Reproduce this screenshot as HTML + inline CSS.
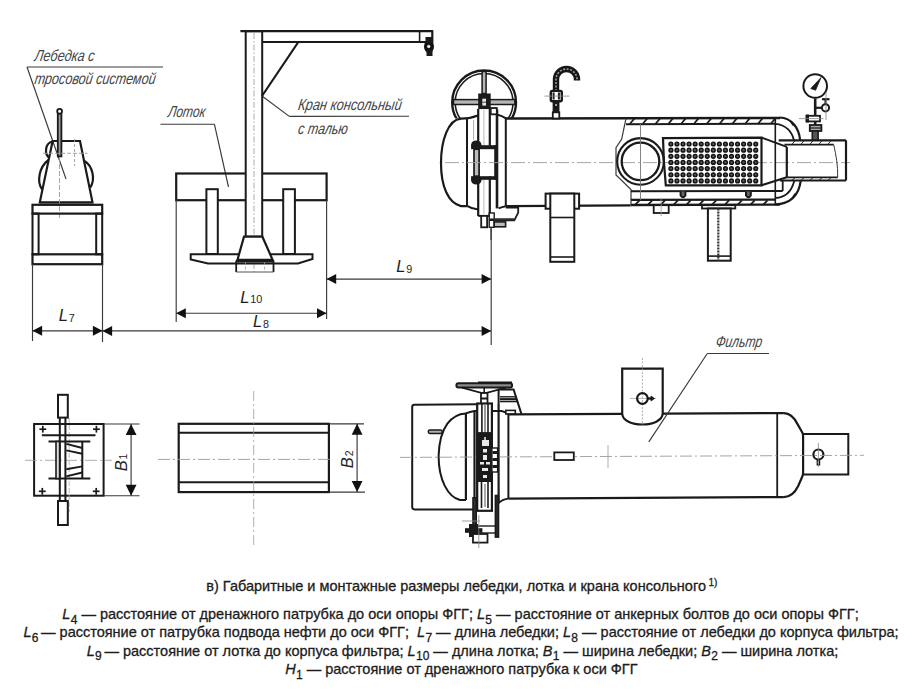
<!DOCTYPE html>
<html><head><meta charset="utf-8"><style>
html,body{margin:0;padding:0;background:#fff;width:919px;height:691px;overflow:hidden}
svg{display:block}
</style></head><body>
<svg width="919" height="691" viewBox="0 0 919 691">
<rect width="919" height="691" fill="#fff"/>
<line x1="27" y1="67" x2="163" y2="67" stroke="#3a3a3a" stroke-width="1.15" />
<line x1="27" y1="67" x2="66" y2="179" stroke="#3a3a3a" stroke-width="1.15" />
<g transform="translate(34,61) skewX(-9)"><text x="0" y="0" font-family="Liberation Sans" font-style="italic" font-size="15" transform="scale(1,1.06)" fill="#444" textLength="60" lengthAdjust="spacingAndGlyphs">Лебедка с</text></g>
<g transform="translate(34,84) skewX(-9)"><text x="0" y="0" font-family="Liberation Sans" font-style="italic" font-size="15" transform="scale(1,1.06)" fill="#444" textLength="121" lengthAdjust="spacingAndGlyphs">тросовой системой</text></g>
<path d="M52.6,141.5 C45,143 44,154 49.5,158" stroke="#1a1a1a" stroke-width="2.2" fill="none" />
<path d="M48.5,160 C39,167 36.5,182 42.2,189.5" stroke="#1a1a1a" stroke-width="2.2" fill="none" />
<path d="M84.4,161 C93,166 95.5,180 90.2,187.5" stroke="#1a1a1a" stroke-width="2.2" fill="none" />
<polygon points="52.6,141 80,141 92.5,202.4 39.8,202.4" stroke="#1a1a1a" stroke-width="2.2" fill="none" stroke-linejoin="miter"/>
<line x1="39.8" y1="204.5" x2="92.5" y2="204.5" stroke="#1a1a1a" stroke-width="1.4" />
<rect x="57.8" y="113.5" width="3.6" height="42.9" rx="0" stroke="#1a1a1a" stroke-width="1.8" fill="#9a9a9a"/>
<circle cx="59.6" cy="111.3" r="2.4" stroke="#1a1a1a" stroke-width="1.8" fill="#fff"/>
<line x1="43" y1="153.3" x2="87.5" y2="153.3" stroke="#9a9a9a" stroke-width="0.9" stroke-dasharray="4 2"/>
<line x1="59.5" y1="157" x2="59.5" y2="218" stroke="#9a9a9a" stroke-width="0.9" stroke-dasharray="5 2"/>
<line x1="74.6" y1="139" x2="74.6" y2="166" stroke="#9a9a9a" stroke-width="0.9" stroke-dasharray="3 2"/>
<rect x="32.5" y="204.8" width="69.7" height="8.8" rx="0" stroke="#1a1a1a" stroke-width="2.2" fill="none"/>
<rect x="32.5" y="213.6" width="6.1" height="40.7" rx="0" stroke="#1a1a1a" stroke-width="2.0" fill="none"/>
<rect x="96.2" y="213.6" width="6" height="40.7" rx="0" stroke="#1a1a1a" stroke-width="2.0" fill="none"/>
<rect x="32.5" y="254.3" width="69.7" height="9.9" rx="0" stroke="#1a1a1a" stroke-width="2.2" fill="none"/>
<line x1="32.5" y1="264" x2="32.5" y2="341" stroke="#3a3a3a" stroke-width="1.15" />
<line x1="102.5" y1="264" x2="102.5" y2="342" stroke="#3a3a3a" stroke-width="1.15" />
<line x1="32.5" y1="330.8" x2="102.5" y2="330.8" stroke="#3a3a3a" stroke-width="1.15" />
<polygon points="32.5,330.8 42.1,325.8 42.1,335.8" fill="#111"/>
<polygon points="102.5,330.8 92.9,325.8 92.9,335.8" fill="#111"/>
<text x="58.8" y="321.3" font-family="Liberation Sans" font-size="16.5" fill="#1e1e1e"><tspan font-style="italic">L</tspan><tspan font-size="10.8" dx="0.8" dy="0.3">7</tspan></text>
<line x1="160.5" y1="124.2" x2="214.4" y2="124.2" stroke="#3a3a3a" stroke-width="1.15" />
<line x1="214.4" y1="124.2" x2="228.5" y2="187" stroke="#3a3a3a" stroke-width="1.15" />
<g transform="translate(167.4,117) skewX(-9)"><text x="0" y="0" font-family="Liberation Sans" font-style="italic" font-size="15" transform="scale(1,1.06)" fill="#444" textLength="37.2" lengthAdjust="spacingAndGlyphs">Лоток</text></g>
<line x1="262" y1="96" x2="289.3" y2="116.4" stroke="#3a3a3a" stroke-width="1.15" />
<line x1="289.3" y1="116.4" x2="409" y2="116.2" stroke="#3a3a3a" stroke-width="1.15" />
<g transform="translate(297.5,110) skewX(-9)"><text x="0" y="0" font-family="Liberation Sans" font-style="italic" font-size="15" transform="scale(1,1.06)" fill="#444" textLength="103.6" lengthAdjust="spacingAndGlyphs">Кран консольный</text></g>
<g transform="translate(297.5,134) skewX(-9)"><text x="0" y="0" font-family="Liberation Sans" font-style="italic" font-size="15" transform="scale(1,1.06)" fill="#444" textLength="49.6" lengthAdjust="spacingAndGlyphs">с талью</text></g>
<rect x="176.2" y="173.5" width="150.4" height="26.7" rx="0" stroke="#1a1a1a" stroke-width="2.2" fill="none"/>
<rect x="245.7" y="31.2" width="16.5" height="205.5" rx="0" stroke="#1a1a1a" stroke-width="2.0" fill="#fff"/>
<line x1="254" y1="33" x2="254" y2="272" stroke="#9a9a9a" stroke-width="0.8" stroke-dasharray="6 2 1.5 2"/>
<line x1="240.4" y1="31.2" x2="432.6" y2="31.2" stroke="#1a1a1a" stroke-width="2.2" />
<line x1="262" y1="42" x2="432.6" y2="42" stroke="#1a1a1a" stroke-width="2.2" />
<line x1="432.3" y1="30.2" x2="432.3" y2="43" stroke="#1a1a1a" stroke-width="2.2" />
<line x1="419.6" y1="31" x2="419.6" y2="42" stroke="#1a1a1a" stroke-width="1.6" />
<line x1="298" y1="42.5" x2="262" y2="96" stroke="#1a1a1a" stroke-width="2.2" />
<ellipse cx="429" cy="46.5" rx="5" ry="6.5" fill="#111"/>
<rect x="425.5" y="37" width="7" height="6" fill="#1a1a1a"/>
<rect x="426.5" y="50" width="6" height="6" fill="#1a1a1a"/>
<circle cx="428.7" cy="46.5" r="1.3" stroke="#fff" stroke-width="0.6" fill="#fff"/>
<rect x="206.4" y="189.2" width="11.4" height="64.8" rx="0" stroke="#1a1a1a" stroke-width="2.0" fill="#fff"/>
<rect x="283.2" y="189.2" width="11.7" height="64.8" rx="0" stroke="#1a1a1a" stroke-width="2.0" fill="#fff"/>
<polygon points="190.7,254.2 312.5,254.2 312.5,259 298,263.5 208,263.5 190.7,259.4" stroke="#1a1a1a" stroke-width="2.0" fill="#fff" stroke-linejoin="miter"/>
<path d="M236.2,260.5 L236.2,272 M273.5,260.5 L273.5,272" stroke="#1a1a1a" stroke-width="1.8" fill="none" />
<line x1="236.2" y1="272" x2="273.5" y2="272" stroke="#555" stroke-width="1.0" />
<line x1="236.2" y1="261.2" x2="273.5" y2="261.2" stroke="#1a1a1a" stroke-width="2.8" />
<line x1="245.4" y1="262" x2="245.4" y2="272" stroke="#999" stroke-width="0.8" stroke-dasharray="3 1.5"/>
<line x1="264.6" y1="262" x2="264.6" y2="272" stroke="#999" stroke-width="0.8" stroke-dasharray="3 1.5"/>
<polygon points="244,236.7 262.4,236.7 272.6,259.8 237.5,259.8" stroke="#1a1a1a" stroke-width="2.2" fill="#fff" stroke-linejoin="miter"/>
<line x1="176.2" y1="200" x2="176.2" y2="322" stroke="#3a3a3a" stroke-width="1.15" />
<line x1="326.6" y1="200" x2="326.6" y2="319" stroke="#3a3a3a" stroke-width="1.15" />
<line x1="176.2" y1="313.2" x2="326.6" y2="313.2" stroke="#3a3a3a" stroke-width="1.15" />
<polygon points="176.2,313.2 185.8,308.2 185.8,318.2" fill="#111"/>
<polygon points="326.6,313.2 317,308.2 317,318.2" fill="#111"/>
<text x="240.2" y="302.7" font-family="Liberation Sans" font-size="16.5" fill="#1e1e1e"><tspan font-style="italic">L</tspan><tspan font-size="10.8" dx="0.8" dy="0.3">10</tspan></text>
<line x1="102.5" y1="330.9" x2="491.2" y2="330.9" stroke="#3a3a3a" stroke-width="1.15" />
<polygon points="102.5,330.9 112.1,325.9 112.1,335.9" fill="#111"/>
<polygon points="491.2,330.9 481.6,325.9 481.6,335.9" fill="#111"/>
<text x="252.9" y="327.3" font-family="Liberation Sans" font-size="16.5" fill="#1e1e1e"><tspan font-style="italic">L</tspan><tspan font-size="10.8" dx="0.8" dy="0.3">8</tspan></text>
<line x1="326.6" y1="279.1" x2="491.2" y2="279.1" stroke="#3a3a3a" stroke-width="1.15" />
<polygon points="326.6,279.1 336.2,274.1 336.2,284.1" fill="#111"/>
<polygon points="491.2,279.1 481.6,274.1 481.6,284.1" fill="#111"/>
<text x="396.3" y="272.3" font-family="Liberation Sans" font-size="16.5" fill="#1e1e1e"><tspan font-style="italic">L</tspan><tspan font-size="10.8" dx="0.8" dy="0.3">9</tspan></text>
<line x1="491.2" y1="228" x2="491.2" y2="345" stroke="#3a3a3a" stroke-width="1.15" />
<clipPath id="wclip"><rect x="440" y="60" width="90" height="58.6"/></clipPath>
<g clip-path="url(#wclip)">
<circle cx="484.1" cy="102.4" r="31.9" stroke="#1a1a1a" stroke-width="2.4" fill="none"/>
<circle cx="484.1" cy="102.4" r="28.9" stroke="#1a1a1a" stroke-width="1.6" fill="none"/>
</g>
<rect x="482.1" y="71.5" width="4" height="22" rx="0" stroke="#1a1a1a" stroke-width="1.5" fill="#b5b5b5"/>
<rect x="453.5" y="99.6" width="61.3" height="4.9" rx="0" stroke="#1a1a1a" stroke-width="1.5" fill="#b5b5b5"/>
<rect x="478.2" y="93.5" width="12.5" height="15.6" fill="#1a1a1a"/>
<rect x="482.3" y="98.7" width="3.7" height="6.9" fill="#e6e6e6"/>
<line x1="482.3" y1="102.2" x2="486" y2="102.2" stroke="#444" stroke-width="1.0" />
<path d="M477.8,115.4 Q470,118.6 461,118.6 C448,119.5 441,141 441,163 C441,186 448,203 461,206.1 L467.6,206.1" stroke="#1a1a1a" stroke-width="2.2" fill="none" />
<path d="M496.8,114.4 Q502,115.5 506.4,118.6" stroke="#1a1a1a" stroke-width="2.0" fill="none" />
<path d="M467.6,206.1 Q472,209 478.2,209.4" stroke="#1a1a1a" stroke-width="2.0" fill="none" />
<path d="M498.6,208.4 Q502,206.8 505.8,206.2" stroke="#1a1a1a" stroke-width="2.0" fill="none" />
<line x1="467" y1="118.6" x2="467" y2="206.1" stroke="#1a1a1a" stroke-width="2.0" />
<line x1="505.8" y1="118.4" x2="505.8" y2="206.2" stroke="#1a1a1a" stroke-width="2.0" />
<line x1="497" y1="109.5" x2="497" y2="208.4" stroke="#1a1a1a" stroke-width="2.6" />
<line x1="473.6" y1="120" x2="473.6" y2="140" stroke="#999" stroke-width="0.8" />
<line x1="478.2" y1="109" x2="478.2" y2="216" stroke="#1a1a1a" stroke-width="2.2" />
<line x1="489.8" y1="109" x2="489.8" y2="216" stroke="#1a1a1a" stroke-width="2.2" />
<line x1="478.2" y1="215.9" x2="489.8" y2="215.9" stroke="#1a1a1a" stroke-width="2.0" />
<line x1="483.9" y1="110" x2="483.9" y2="214" stroke="#aaa" stroke-width="0.8" />
<rect x="490.7" y="108" width="6.1" height="6.3" rx="0" stroke="#1a1a1a" stroke-width="1.8" fill="#fff"/>
<rect x="479.1" y="148.9" width="16.3" height="27.5" fill="#fff"/>
<rect x="471.1" y="145.2" width="25.5" height="4" fill="#1a1a1a"/>
<rect x="471.1" y="176.2" width="25.5" height="3.6" fill="#1a1a1a"/>
<path d="M471.1,146 L471.1,144.5 Q471.8,140.6 476.3,140.6 Q480.8,140.6 481.5,144.5 L481.5,146 Z" stroke="#1a1a1a" stroke-width="0" fill="#1a1a1a" />
<path d="M471.1,179 L471.1,180.5 Q471.8,184.4 476.3,184.4 Q480.8,184.4 481.5,180.5 L481.5,179 Z" stroke="#1a1a1a" stroke-width="0" fill="#1a1a1a" />
<rect x="474" y="149.2" width="5.1" height="27" rx="0" stroke="#1a1a1a" stroke-width="1.7" fill="#bdbdbd"/>
<line x1="495.6" y1="145.2" x2="495.6" y2="179.8" stroke="#1a1a1a" stroke-width="2.8" />
<rect x="481.2" y="215.9" width="5.9" height="11.4" rx="0" stroke="#1a1a1a" stroke-width="1.8" fill="#fff"/>
<rect x="489.2" y="213" width="5" height="14.3" rx="0" stroke="#1a1a1a" stroke-width="1.4" fill="#fff"/>
<rect x="489.5" y="218.5" width="4.5" height="2.5" fill="#1a1a1a"/>
<path d="M505.8,207.7 L518.2,207.7 L518.2,212.6 L514.3,220.3 L494.8,220.3" stroke="#1a1a1a" stroke-width="1.8" fill="none" />
<line x1="494.2" y1="219.2" x2="514.3" y2="219.2" stroke="#333" stroke-width="2.0" />
<rect x="494.2" y="221.9" width="11.4" height="4.9" rx="0" stroke="#1a1a1a" stroke-width="1.6" fill="#bbb"/>
<line x1="491" y1="227.3" x2="491" y2="240" stroke="#3a3a3a" stroke-width="1.15" />
<line x1="445" y1="162.6" x2="850" y2="162.6" stroke="#9a9a9a" stroke-width="0.9" stroke-dasharray="14 3 2 3"/>
<line x1="505.8" y1="118.6" x2="780" y2="118" stroke="#1a1a1a" stroke-width="2.5" />
<line x1="505.8" y1="206.1" x2="630.5" y2="205.3" stroke="#1a1a1a" stroke-width="2.2" />
<line x1="630.5" y1="205" x2="780" y2="204.6" stroke="#1a1a1a" stroke-width="2.4" />
<polyline points="626,118.4 621.7,139 616,147.6 616,175 631,189.6 631,204.4" stroke="#3a3a3a" stroke-width="1.2" fill="none" stroke-linejoin="miter"/>
<line x1="626" y1="124.2" x2="775.3" y2="123.8" stroke="#1a1a1a" stroke-width="2.0" />
<line x1="630" y1="123.8" x2="634.5" y2="118.4" stroke="#1a1a1a" stroke-width="1.7" />
<line x1="642.8" y1="123.8" x2="647.3" y2="118.4" stroke="#1a1a1a" stroke-width="1.7" />
<line x1="655.6" y1="123.8" x2="660.1" y2="118.4" stroke="#1a1a1a" stroke-width="1.7" />
<line x1="668.4" y1="123.8" x2="672.9" y2="118.4" stroke="#1a1a1a" stroke-width="1.7" />
<line x1="681.2" y1="123.8" x2="685.7" y2="118.4" stroke="#1a1a1a" stroke-width="1.7" />
<line x1="694" y1="123.8" x2="698.5" y2="118.4" stroke="#1a1a1a" stroke-width="1.7" />
<line x1="706.8" y1="123.8" x2="711.3" y2="118.4" stroke="#1a1a1a" stroke-width="1.7" />
<line x1="719.6" y1="123.8" x2="724.1" y2="118.4" stroke="#1a1a1a" stroke-width="1.7" />
<line x1="732.4" y1="123.8" x2="736.9" y2="118.4" stroke="#1a1a1a" stroke-width="1.7" />
<line x1="745.2" y1="123.8" x2="749.7" y2="118.4" stroke="#1a1a1a" stroke-width="1.7" />
<line x1="758" y1="123.8" x2="762.5" y2="118.4" stroke="#1a1a1a" stroke-width="1.7" />
<line x1="770.8" y1="123.8" x2="775.3" y2="118.4" stroke="#1a1a1a" stroke-width="1.7" />
<line x1="631" y1="199.9" x2="775.3" y2="199.7" stroke="#1a1a1a" stroke-width="2.2" />
<line x1="635" y1="204.8" x2="639.5" y2="200.3" stroke="#1a1a1a" stroke-width="1.7" />
<line x1="647.8" y1="204.8" x2="652.3" y2="200.3" stroke="#1a1a1a" stroke-width="1.7" />
<line x1="660.6" y1="204.8" x2="665.1" y2="200.3" stroke="#1a1a1a" stroke-width="1.7" />
<line x1="673.4" y1="204.8" x2="677.9" y2="200.3" stroke="#1a1a1a" stroke-width="1.7" />
<line x1="686.2" y1="204.8" x2="690.7" y2="200.3" stroke="#1a1a1a" stroke-width="1.7" />
<line x1="699" y1="204.8" x2="703.5" y2="200.3" stroke="#1a1a1a" stroke-width="1.7" />
<line x1="711.8" y1="204.8" x2="716.3" y2="200.3" stroke="#1a1a1a" stroke-width="1.7" />
<line x1="724.6" y1="204.8" x2="729.1" y2="200.3" stroke="#1a1a1a" stroke-width="1.7" />
<line x1="737.4" y1="204.8" x2="741.9" y2="200.3" stroke="#1a1a1a" stroke-width="1.7" />
<line x1="750.2" y1="204.8" x2="754.7" y2="200.3" stroke="#1a1a1a" stroke-width="1.7" />
<line x1="763" y1="204.8" x2="767.5" y2="200.3" stroke="#1a1a1a" stroke-width="1.7" />
<line x1="631" y1="191.3" x2="782.7" y2="191" stroke="#1a1a1a" stroke-width="2.0" />
<line x1="782.7" y1="181" x2="782.7" y2="191" stroke="#1a1a1a" stroke-width="1.8" />
<path d="M680.6,191.5 L680.6,195.5 Q683,199 685.4,195.5 L685.4,191.5" stroke="#1a1a1a" stroke-width="2.0" fill="#666" />
<path d="M746,191.5 L746,195.5 Q748.4,199 750.8,195.5 L750.8,191.5" stroke="#1a1a1a" stroke-width="2.0" fill="#666" />
<circle cx="640.5" cy="161.4" r="23.3" stroke="#1a1a1a" stroke-width="2.1" fill="none"/>
<circle cx="640.5" cy="161.4" r="18.8" stroke="#1a1a1a" stroke-width="2.3" fill="none"/>
<line x1="640.5" y1="124" x2="640.5" y2="200" stroke="#777" stroke-width="0.9" />
<path d="M663,138.2 L761.5,137.6 L761.5,185.3 L665.8,185.3 Q663.5,162 663,138.2 Z" stroke="#1a1a1a" stroke-width="2.2" fill="none" />
<circle cx="670.9" cy="144" r="1.85" stroke="#141414" stroke-width="1.5" fill="#5a5a5a"/>
<circle cx="670.9" cy="150.15" r="1.85" stroke="#141414" stroke-width="1.5" fill="#5a5a5a"/>
<circle cx="670.9" cy="156.3" r="1.85" stroke="#141414" stroke-width="1.5" fill="#5a5a5a"/>
<circle cx="670.9" cy="162.45" r="1.85" stroke="#141414" stroke-width="1.5" fill="#5a5a5a"/>
<circle cx="670.9" cy="168.6" r="1.85" stroke="#141414" stroke-width="1.5" fill="#5a5a5a"/>
<circle cx="670.9" cy="174.75" r="1.85" stroke="#141414" stroke-width="1.5" fill="#5a5a5a"/>
<circle cx="670.9" cy="180.9" r="1.85" stroke="#141414" stroke-width="1.5" fill="#5a5a5a"/>
<circle cx="676.96" cy="144" r="1.85" stroke="#141414" stroke-width="1.5" fill="#5a5a5a"/>
<circle cx="676.96" cy="150.15" r="1.85" stroke="#141414" stroke-width="1.5" fill="#5a5a5a"/>
<circle cx="676.96" cy="156.3" r="1.85" stroke="#141414" stroke-width="1.5" fill="#5a5a5a"/>
<circle cx="676.96" cy="162.45" r="1.85" stroke="#141414" stroke-width="1.5" fill="#5a5a5a"/>
<circle cx="676.96" cy="168.6" r="1.85" stroke="#141414" stroke-width="1.5" fill="#5a5a5a"/>
<circle cx="676.96" cy="174.75" r="1.85" stroke="#141414" stroke-width="1.5" fill="#5a5a5a"/>
<circle cx="676.96" cy="180.9" r="1.85" stroke="#141414" stroke-width="1.5" fill="#5a5a5a"/>
<circle cx="683.02" cy="144" r="1.85" stroke="#141414" stroke-width="1.5" fill="#5a5a5a"/>
<circle cx="683.02" cy="150.15" r="1.85" stroke="#141414" stroke-width="1.5" fill="#5a5a5a"/>
<circle cx="683.02" cy="156.3" r="1.85" stroke="#141414" stroke-width="1.5" fill="#5a5a5a"/>
<circle cx="683.02" cy="162.45" r="1.85" stroke="#141414" stroke-width="1.5" fill="#5a5a5a"/>
<circle cx="683.02" cy="168.6" r="1.85" stroke="#141414" stroke-width="1.5" fill="#5a5a5a"/>
<circle cx="683.02" cy="174.75" r="1.85" stroke="#141414" stroke-width="1.5" fill="#5a5a5a"/>
<circle cx="683.02" cy="180.9" r="1.85" stroke="#141414" stroke-width="1.5" fill="#5a5a5a"/>
<circle cx="689.08" cy="144" r="1.85" stroke="#141414" stroke-width="1.5" fill="#5a5a5a"/>
<circle cx="689.08" cy="150.15" r="1.85" stroke="#141414" stroke-width="1.5" fill="#5a5a5a"/>
<circle cx="689.08" cy="156.3" r="1.85" stroke="#141414" stroke-width="1.5" fill="#5a5a5a"/>
<circle cx="689.08" cy="162.45" r="1.85" stroke="#141414" stroke-width="1.5" fill="#5a5a5a"/>
<circle cx="689.08" cy="168.6" r="1.85" stroke="#141414" stroke-width="1.5" fill="#5a5a5a"/>
<circle cx="689.08" cy="174.75" r="1.85" stroke="#141414" stroke-width="1.5" fill="#5a5a5a"/>
<circle cx="689.08" cy="180.9" r="1.85" stroke="#141414" stroke-width="1.5" fill="#5a5a5a"/>
<circle cx="695.14" cy="144" r="1.85" stroke="#141414" stroke-width="1.5" fill="#5a5a5a"/>
<circle cx="695.14" cy="150.15" r="1.85" stroke="#141414" stroke-width="1.5" fill="#5a5a5a"/>
<circle cx="695.14" cy="156.3" r="1.85" stroke="#141414" stroke-width="1.5" fill="#5a5a5a"/>
<circle cx="695.14" cy="162.45" r="1.85" stroke="#141414" stroke-width="1.5" fill="#5a5a5a"/>
<circle cx="695.14" cy="168.6" r="1.85" stroke="#141414" stroke-width="1.5" fill="#5a5a5a"/>
<circle cx="695.14" cy="174.75" r="1.85" stroke="#141414" stroke-width="1.5" fill="#5a5a5a"/>
<circle cx="695.14" cy="180.9" r="1.85" stroke="#141414" stroke-width="1.5" fill="#5a5a5a"/>
<circle cx="701.2" cy="144" r="1.85" stroke="#141414" stroke-width="1.5" fill="#5a5a5a"/>
<circle cx="701.2" cy="150.15" r="1.85" stroke="#141414" stroke-width="1.5" fill="#5a5a5a"/>
<circle cx="701.2" cy="156.3" r="1.85" stroke="#141414" stroke-width="1.5" fill="#5a5a5a"/>
<circle cx="701.2" cy="162.45" r="1.85" stroke="#141414" stroke-width="1.5" fill="#5a5a5a"/>
<circle cx="701.2" cy="168.6" r="1.85" stroke="#141414" stroke-width="1.5" fill="#5a5a5a"/>
<circle cx="701.2" cy="174.75" r="1.85" stroke="#141414" stroke-width="1.5" fill="#5a5a5a"/>
<circle cx="701.2" cy="180.9" r="1.85" stroke="#141414" stroke-width="1.5" fill="#5a5a5a"/>
<circle cx="707.26" cy="144" r="1.85" stroke="#141414" stroke-width="1.5" fill="#5a5a5a"/>
<circle cx="707.26" cy="150.15" r="1.85" stroke="#141414" stroke-width="1.5" fill="#5a5a5a"/>
<circle cx="707.26" cy="156.3" r="1.85" stroke="#141414" stroke-width="1.5" fill="#5a5a5a"/>
<circle cx="707.26" cy="162.45" r="1.85" stroke="#141414" stroke-width="1.5" fill="#5a5a5a"/>
<circle cx="707.26" cy="168.6" r="1.85" stroke="#141414" stroke-width="1.5" fill="#5a5a5a"/>
<circle cx="707.26" cy="174.75" r="1.85" stroke="#141414" stroke-width="1.5" fill="#5a5a5a"/>
<circle cx="707.26" cy="180.9" r="1.85" stroke="#141414" stroke-width="1.5" fill="#5a5a5a"/>
<circle cx="713.32" cy="144" r="1.85" stroke="#141414" stroke-width="1.5" fill="#5a5a5a"/>
<circle cx="713.32" cy="150.15" r="1.85" stroke="#141414" stroke-width="1.5" fill="#5a5a5a"/>
<circle cx="713.32" cy="156.3" r="1.85" stroke="#141414" stroke-width="1.5" fill="#5a5a5a"/>
<circle cx="713.32" cy="162.45" r="1.85" stroke="#141414" stroke-width="1.5" fill="#5a5a5a"/>
<circle cx="713.32" cy="168.6" r="1.85" stroke="#141414" stroke-width="1.5" fill="#5a5a5a"/>
<circle cx="713.32" cy="174.75" r="1.85" stroke="#141414" stroke-width="1.5" fill="#5a5a5a"/>
<circle cx="713.32" cy="180.9" r="1.85" stroke="#141414" stroke-width="1.5" fill="#5a5a5a"/>
<circle cx="719.38" cy="144" r="1.85" stroke="#141414" stroke-width="1.5" fill="#5a5a5a"/>
<circle cx="719.38" cy="150.15" r="1.85" stroke="#141414" stroke-width="1.5" fill="#5a5a5a"/>
<circle cx="719.38" cy="156.3" r="1.85" stroke="#141414" stroke-width="1.5" fill="#5a5a5a"/>
<circle cx="719.38" cy="162.45" r="1.85" stroke="#141414" stroke-width="1.5" fill="#5a5a5a"/>
<circle cx="719.38" cy="168.6" r="1.85" stroke="#141414" stroke-width="1.5" fill="#5a5a5a"/>
<circle cx="719.38" cy="174.75" r="1.85" stroke="#141414" stroke-width="1.5" fill="#5a5a5a"/>
<circle cx="719.38" cy="180.9" r="1.85" stroke="#141414" stroke-width="1.5" fill="#5a5a5a"/>
<circle cx="725.44" cy="144" r="1.85" stroke="#141414" stroke-width="1.5" fill="#5a5a5a"/>
<circle cx="725.44" cy="150.15" r="1.85" stroke="#141414" stroke-width="1.5" fill="#5a5a5a"/>
<circle cx="725.44" cy="156.3" r="1.85" stroke="#141414" stroke-width="1.5" fill="#5a5a5a"/>
<circle cx="725.44" cy="162.45" r="1.85" stroke="#141414" stroke-width="1.5" fill="#5a5a5a"/>
<circle cx="725.44" cy="168.6" r="1.85" stroke="#141414" stroke-width="1.5" fill="#5a5a5a"/>
<circle cx="725.44" cy="174.75" r="1.85" stroke="#141414" stroke-width="1.5" fill="#5a5a5a"/>
<circle cx="725.44" cy="180.9" r="1.85" stroke="#141414" stroke-width="1.5" fill="#5a5a5a"/>
<circle cx="731.5" cy="144" r="1.85" stroke="#141414" stroke-width="1.5" fill="#5a5a5a"/>
<circle cx="731.5" cy="150.15" r="1.85" stroke="#141414" stroke-width="1.5" fill="#5a5a5a"/>
<circle cx="731.5" cy="156.3" r="1.85" stroke="#141414" stroke-width="1.5" fill="#5a5a5a"/>
<circle cx="731.5" cy="162.45" r="1.85" stroke="#141414" stroke-width="1.5" fill="#5a5a5a"/>
<circle cx="731.5" cy="168.6" r="1.85" stroke="#141414" stroke-width="1.5" fill="#5a5a5a"/>
<circle cx="731.5" cy="174.75" r="1.85" stroke="#141414" stroke-width="1.5" fill="#5a5a5a"/>
<circle cx="731.5" cy="180.9" r="1.85" stroke="#141414" stroke-width="1.5" fill="#5a5a5a"/>
<circle cx="737.56" cy="144" r="1.85" stroke="#141414" stroke-width="1.5" fill="#5a5a5a"/>
<circle cx="737.56" cy="150.15" r="1.85" stroke="#141414" stroke-width="1.5" fill="#5a5a5a"/>
<circle cx="737.56" cy="156.3" r="1.85" stroke="#141414" stroke-width="1.5" fill="#5a5a5a"/>
<circle cx="737.56" cy="162.45" r="1.85" stroke="#141414" stroke-width="1.5" fill="#5a5a5a"/>
<circle cx="737.56" cy="168.6" r="1.85" stroke="#141414" stroke-width="1.5" fill="#5a5a5a"/>
<circle cx="737.56" cy="174.75" r="1.85" stroke="#141414" stroke-width="1.5" fill="#5a5a5a"/>
<circle cx="737.56" cy="180.9" r="1.85" stroke="#141414" stroke-width="1.5" fill="#5a5a5a"/>
<circle cx="743.62" cy="144" r="1.85" stroke="#141414" stroke-width="1.5" fill="#5a5a5a"/>
<circle cx="743.62" cy="150.15" r="1.85" stroke="#141414" stroke-width="1.5" fill="#5a5a5a"/>
<circle cx="743.62" cy="156.3" r="1.85" stroke="#141414" stroke-width="1.5" fill="#5a5a5a"/>
<circle cx="743.62" cy="162.45" r="1.85" stroke="#141414" stroke-width="1.5" fill="#5a5a5a"/>
<circle cx="743.62" cy="168.6" r="1.85" stroke="#141414" stroke-width="1.5" fill="#5a5a5a"/>
<circle cx="743.62" cy="174.75" r="1.85" stroke="#141414" stroke-width="1.5" fill="#5a5a5a"/>
<circle cx="743.62" cy="180.9" r="1.85" stroke="#141414" stroke-width="1.5" fill="#5a5a5a"/>
<circle cx="749.68" cy="144" r="1.85" stroke="#141414" stroke-width="1.5" fill="#5a5a5a"/>
<circle cx="749.68" cy="150.15" r="1.85" stroke="#141414" stroke-width="1.5" fill="#5a5a5a"/>
<circle cx="749.68" cy="156.3" r="1.85" stroke="#141414" stroke-width="1.5" fill="#5a5a5a"/>
<circle cx="749.68" cy="162.45" r="1.85" stroke="#141414" stroke-width="1.5" fill="#5a5a5a"/>
<circle cx="749.68" cy="168.6" r="1.85" stroke="#141414" stroke-width="1.5" fill="#5a5a5a"/>
<circle cx="749.68" cy="174.75" r="1.85" stroke="#141414" stroke-width="1.5" fill="#5a5a5a"/>
<circle cx="749.68" cy="180.9" r="1.85" stroke="#141414" stroke-width="1.5" fill="#5a5a5a"/>
<circle cx="755.74" cy="144" r="1.85" stroke="#141414" stroke-width="1.5" fill="#5a5a5a"/>
<circle cx="755.74" cy="150.15" r="1.85" stroke="#141414" stroke-width="1.5" fill="#5a5a5a"/>
<circle cx="755.74" cy="156.3" r="1.85" stroke="#141414" stroke-width="1.5" fill="#5a5a5a"/>
<circle cx="755.74" cy="162.45" r="1.85" stroke="#141414" stroke-width="1.5" fill="#5a5a5a"/>
<circle cx="755.74" cy="168.6" r="1.85" stroke="#141414" stroke-width="1.5" fill="#5a5a5a"/>
<circle cx="755.74" cy="174.75" r="1.85" stroke="#141414" stroke-width="1.5" fill="#5a5a5a"/>
<circle cx="755.74" cy="180.9" r="1.85" stroke="#141414" stroke-width="1.5" fill="#5a5a5a"/>
<line x1="761.5" y1="137.6" x2="786.8" y2="146.9" stroke="#1a1a1a" stroke-width="2.0" />
<line x1="761.5" y1="185.3" x2="786.8" y2="177.3" stroke="#1a1a1a" stroke-width="2.0" />
<line x1="786.8" y1="146.9" x2="786.8" y2="177.3" stroke="#1a1a1a" stroke-width="2.2" />
<line x1="775.3" y1="117.5" x2="775.3" y2="204.4" stroke="#1a1a1a" stroke-width="1.6" />
<path d="M779.6,117.5 C792,118 799,128 800.2,140.5" stroke="#1a1a1a" stroke-width="2.2" fill="none" />
<path d="M775.3,123.8 C786,124.5 792,132 794,140.5" stroke="#1a1a1a" stroke-width="1.8" fill="none" />
<line x1="779" y1="140" x2="781" y2="118.5" stroke="#1a1a1a" stroke-width="0" />
<line x1="790" y1="121" x2="793.5" y2="126" stroke="#1a1a1a" stroke-width="1.2" />
<path d="M800.7,180.8 C799,194 792,203.5 775.3,204.4" stroke="#1a1a1a" stroke-width="2.2" fill="none" />
<path d="M794.3,180.8 C792,190 787,197.5 775.3,198" stroke="#1a1a1a" stroke-width="1.8" fill="none" />
<line x1="792" y1="198" x2="795.5" y2="193" stroke="#1a1a1a" stroke-width="1.2" />
<line x1="778.7" y1="140.3" x2="846" y2="140.3" stroke="#1a1a1a" stroke-width="2.2" />
<line x1="784.5" y1="144.6" x2="833.7" y2="144.6" stroke="#1a1a1a" stroke-width="1.8" />
<line x1="846" y1="140.3" x2="846" y2="180.5" stroke="#1a1a1a" stroke-width="2.2" />
<line x1="779.8" y1="180.5" x2="846" y2="180.5" stroke="#1a1a1a" stroke-width="2.2" />
<line x1="787" y1="177.4" x2="837.7" y2="177.4" stroke="#1a1a1a" stroke-width="1.8" />
<line x1="792" y1="144.2" x2="795" y2="140.8" stroke="#1a1a1a" stroke-width="0.9" />
<line x1="801" y1="144.2" x2="804" y2="140.8" stroke="#1a1a1a" stroke-width="0.9" />
<line x1="810" y1="144.2" x2="813" y2="140.8" stroke="#1a1a1a" stroke-width="0.9" />
<line x1="819" y1="144.2" x2="822" y2="140.8" stroke="#1a1a1a" stroke-width="0.9" />
<line x1="828" y1="144.2" x2="831" y2="140.8" stroke="#1a1a1a" stroke-width="0.9" />
<line x1="792" y1="180.2" x2="795" y2="177.8" stroke="#1a1a1a" stroke-width="0.9" />
<line x1="801" y1="180.2" x2="804" y2="177.8" stroke="#1a1a1a" stroke-width="0.9" />
<line x1="810" y1="180.2" x2="813" y2="177.8" stroke="#1a1a1a" stroke-width="0.9" />
<line x1="819" y1="180.2" x2="822" y2="177.8" stroke="#1a1a1a" stroke-width="0.9" />
<line x1="828" y1="180.2" x2="831" y2="177.8" stroke="#1a1a1a" stroke-width="0.9" />
<path d="M833.7,144.6 C836,155 838,165 837.7,177.4" stroke="#3a3a3a" stroke-width="1.0" fill="none" />
<circle cx="815.2" cy="86" r="11.8" stroke="#1a1a1a" stroke-width="2.0" fill="#fff"/>
<polygon points="810.8,88.6 821,77.6 815.6,90.2" stroke="#1a1a1a" stroke-width="0.8" fill="#1a1a1a" stroke-linejoin="miter"/>
<line x1="815.2" y1="98.4" x2="815.2" y2="125" stroke="#1a1a1a" stroke-width="2.6" />
<line x1="815.2" y1="107.8" x2="822" y2="107.8" stroke="#1a1a1a" stroke-width="2.2" />
<circle cx="825.5" cy="107.8" r="3.6" stroke="#1a1a1a" stroke-width="2.0" fill="#fff"/>
<line x1="822" y1="99.2" x2="829.5" y2="99.2" stroke="#1a1a1a" stroke-width="2.2" />
<line x1="825.5" y1="99.2" x2="825.5" y2="104" stroke="#1a1a1a" stroke-width="2.0" />
<line x1="826" y1="92" x2="826" y2="120" stroke="#888" stroke-width="0.8" />
<rect x="806.4" y="115.8" width="13.6" height="5.6" rx="0" stroke="#1a1a1a" stroke-width="1.8" fill="#fff"/>
<rect x="806" y="114.5" width="3" height="8" fill="#1a1a1a"/>
<line x1="799" y1="118.6" x2="823.5" y2="118.6" stroke="#888" stroke-width="0.8" />
<rect x="809.8" y="125" width="11.6" height="6" rx="0" stroke="#1a1a1a" stroke-width="1.8" fill="#aaa"/>
<line x1="809.8" y1="128" x2="821.4" y2="128" stroke="#1a1a1a" stroke-width="1.2" />
<rect x="812.3" y="131" width="5.8" height="9" rx="0" stroke="#1a1a1a" stroke-width="1.6" fill="#555"/>
<path d="M556,112 L556,79.5 A10.5,10.5 0 0 1 577,79.5 L577,80.5" stroke="#161616" stroke-width="6.4" fill="none" stroke-linecap="butt"/>
<path d="M556,112 L556,79.5 A10.5,10.5 0 0 1 577,79.5 L577,80.5" stroke="#9a9a9a" stroke-width="1.6" fill="none" stroke-dasharray="2 1.5"/>
<rect x="550.8" y="90.9" width="11" height="10.4" rx="1.5" stroke="#1a1a1a" stroke-width="2.4" fill="#fff"/>
<line x1="553.6" y1="92.5" x2="553.6" y2="99.5" stroke="#1a1a1a" stroke-width="2.0" />
<line x1="558.9" y1="92.5" x2="558.9" y2="99.5" stroke="#1a1a1a" stroke-width="2.0" />
<line x1="544.5" y1="96.1" x2="569.4" y2="96.1" stroke="#888" stroke-width="0.8" />
<rect x="552.8" y="112.3" width="6.5" height="6.2" rx="0" stroke="#1a1a1a" stroke-width="1.8" fill="#fff"/>
<rect x="552.8" y="101" width="6.5" height="11.3" fill="#1a1a1a"/>
<rect x="555.3" y="104" width="1.5" height="2" fill="#ccc"/>
<rect x="545.6" y="193.6" width="33.5" height="15.1" rx="0" stroke="#1a1a1a" stroke-width="2.0" fill="#fff"/>
<rect x="550.3" y="193.6" width="24" height="68.2" rx="0" stroke="#1a1a1a" stroke-width="2.0" fill="#fff"/>
<line x1="550.3" y1="217.5" x2="574.3" y2="217.5" stroke="#1a1a1a" stroke-width="1.6" />
<line x1="550.3" y1="257" x2="574.3" y2="257" stroke="#1a1a1a" stroke-width="1.6" />
<rect x="653.7" y="205.2" width="15" height="7.8" rx="0" stroke="#1a1a1a" stroke-width="1.8" fill="#fff"/>
<line x1="661.2" y1="198" x2="661.2" y2="216" stroke="#999" stroke-width="0.8" />
<rect x="702" y="205.2" width="33.3" height="3.3" rx="0" stroke="#1a1a1a" stroke-width="1.8" fill="#fff"/>
<rect x="707.9" y="208.5" width="22.8" height="52.2" rx="0" stroke="#1a1a1a" stroke-width="2.0" fill="#fff"/>
<line x1="718.3" y1="208.5" x2="718.3" y2="260.7" stroke="#333" stroke-width="2.2" stroke-dasharray="2 1"/>
<line x1="707.9" y1="256.1" x2="730.7" y2="256.1" stroke="#1a1a1a" stroke-width="1.6" />
<rect x="34.1" y="424" width="69.5" height="71.7" rx="0" stroke="#1a1a1a" stroke-width="2.0" fill="none"/>
<line x1="25" y1="460.3" x2="112" y2="460.3" stroke="#999" stroke-width="0.8" stroke-dasharray="12 3 2 3"/>
<line x1="69.2" y1="418" x2="69.2" y2="512" stroke="#aaa" stroke-width="0.8" stroke-dasharray="5 2"/>
<line x1="41.9" y1="435.3" x2="95.5" y2="435.3" stroke="#1a1a1a" stroke-width="2.0" />
<line x1="48.5" y1="441.5" x2="90.3" y2="441.5" stroke="#1a1a1a" stroke-width="2.0" />
<line x1="48.5" y1="478.6" x2="90.3" y2="478.6" stroke="#1a1a1a" stroke-width="2.0" />
<line x1="39.4" y1="429.2" x2="46.2" y2="429.2" stroke="#1a1a1a" stroke-width="1.7" />
<line x1="42.8" y1="425.8" x2="42.8" y2="432.6" stroke="#1a1a1a" stroke-width="1.7" />
<line x1="93" y1="429.2" x2="99.8" y2="429.2" stroke="#1a1a1a" stroke-width="1.7" />
<line x1="96.4" y1="425.8" x2="96.4" y2="432.6" stroke="#1a1a1a" stroke-width="1.7" />
<line x1="38.9" y1="491.3" x2="45.7" y2="491.3" stroke="#1a1a1a" stroke-width="1.7" />
<line x1="42.3" y1="487.9" x2="42.3" y2="494.7" stroke="#1a1a1a" stroke-width="1.7" />
<line x1="92.8" y1="491.3" x2="99.6" y2="491.3" stroke="#1a1a1a" stroke-width="1.7" />
<line x1="96.2" y1="487.9" x2="96.2" y2="494.7" stroke="#1a1a1a" stroke-width="1.7" />
<rect x="56" y="441.5" width="3.8" height="37.1" rx="0" stroke="#1a1a1a" stroke-width="1.6" fill="#ddd"/>
<line x1="82.3" y1="441.5" x2="82.3" y2="478.6" stroke="#1a1a1a" stroke-width="2.0" />
<line x1="66.3" y1="443.8" x2="82.3" y2="448" stroke="#1a1a1a" stroke-width="1.9" />
<line x1="66.3" y1="450.4" x2="82.3" y2="453.7" stroke="#1a1a1a" stroke-width="1.9" />
<line x1="66.3" y1="469.2" x2="82.3" y2="466.4" stroke="#1a1a1a" stroke-width="1.9" />
<line x1="66.3" y1="476.3" x2="82.3" y2="472.5" stroke="#1a1a1a" stroke-width="1.9" />
<line x1="59.8" y1="417.6" x2="59.8" y2="501" stroke="#1a1a1a" stroke-width="2.0" />
<line x1="65.4" y1="417.6" x2="65.4" y2="501" stroke="#1a1a1a" stroke-width="2.0" />
<rect x="58" y="394.8" width="9.8" height="22.8" rx="0" stroke="#1a1a1a" stroke-width="2.0" fill="#fff"/>
<rect x="58" y="501" width="9.8" height="24" rx="0" stroke="#1a1a1a" stroke-width="2.0" fill="#fff"/>
<line x1="103.6" y1="424" x2="139.5" y2="424" stroke="#3a3a3a" stroke-width="1.15" />
<line x1="103.6" y1="495.7" x2="139.5" y2="495.7" stroke="#3a3a3a" stroke-width="1.15" />
<line x1="131.1" y1="424" x2="131.1" y2="495.7" stroke="#3a3a3a" stroke-width="1.15" />
<polygon points="131.1,424 125.7,435 136.5,435" fill="#111"/>
<polygon points="131.1,495.7 125.7,484.7 136.5,484.7" fill="#111"/>
<text transform="translate(127.3,462.5) rotate(-90)" text-anchor="middle" font-family="Liberation Sans" font-size="16.5" fill="#1e1e1e"><tspan font-style="italic">B</tspan><tspan font-size="10.5" dx="0.8">1</tspan></text>
<rect x="178.7" y="423.8" width="150.2" height="68.3" rx="0" stroke="#1a1a1a" stroke-width="2.2" fill="none"/>
<line x1="178.7" y1="432.8" x2="328.9" y2="432.8" stroke="#1a1a1a" stroke-width="2.0" />
<line x1="178.7" y1="482.2" x2="328.9" y2="482.2" stroke="#1a1a1a" stroke-width="2.0" />
<line x1="253.7" y1="391" x2="253.7" y2="547" stroke="#9a9a9a" stroke-width="0.8" stroke-dasharray="10 3 2 3"/>
<line x1="158" y1="459.4" x2="332" y2="459.4" stroke="#9a9a9a" stroke-width="0.9" stroke-dasharray="12 3 2 3"/>
<line x1="328.9" y1="423.8" x2="364" y2="423.8" stroke="#3a3a3a" stroke-width="1.15" />
<line x1="328.9" y1="492.1" x2="365" y2="492.1" stroke="#3a3a3a" stroke-width="1.15" />
<line x1="357.1" y1="423.8" x2="357.1" y2="492.1" stroke="#3a3a3a" stroke-width="1.15" />
<polygon points="357.1,423.8 351.7,434.8 362.5,434.8" fill="#111"/>
<polygon points="357.1,492.1 351.7,481.1 362.5,481.1" fill="#111"/>
<text transform="translate(353.1,459.3) rotate(-90)" text-anchor="middle" font-family="Liberation Sans" font-size="16.5" fill="#1e1e1e"><tspan font-style="italic">B</tspan><tspan font-size="10.5" dx="0.8">2</tspan></text>
<path d="M477.4,404.2 L414.5,404.7 Q412.2,404.7 412.2,407 L412.2,507 Q412.2,509.4 414.5,509.4 L473,509.4" stroke="#1a1a1a" stroke-width="2.0" fill="none" />
<path d="M465.9,413.4 C452,414 439.5,426 438.6,456 C438.6,480 448,497 460,500 L466,500" stroke="#1a1a1a" stroke-width="2.0" fill="none" />
<path d="M465.9,413.4 Q470,411.5 474.5,410.9 L477.2,410.9" stroke="#1a1a1a" stroke-width="2.0" fill="none" />
<rect x="428.3" y="430" width="13.9" height="3.4" rx="1.6" stroke="#1a1a1a" stroke-width="1.5" fill="#b0b0b0"/>
<line x1="465.9" y1="413" x2="465.9" y2="500" stroke="#1a1a1a" stroke-width="2.2" />
<line x1="474.5" y1="410.9" x2="474.5" y2="500" stroke="#1a1a1a" stroke-width="2.2" />
<line x1="476.9" y1="411" x2="476.9" y2="498" stroke="#1a1a1a" stroke-width="1.0" />
<line x1="498.6" y1="404" x2="498.6" y2="503" stroke="#1a1a1a" stroke-width="2.2" />
<line x1="508.4" y1="414.3" x2="508.4" y2="498.6" stroke="#1a1a1a" stroke-width="2.0" />
<path d="M498.6,503 Q503,499 508.4,498.6" stroke="#1a1a1a" stroke-width="1.8" fill="none" />
<path d="M491.9,410.9 L501.5,410.9 Q505,411.5 508.4,414.3" stroke="#1a1a1a" stroke-width="2.0" fill="none" />
<line x1="508.4" y1="414.3" x2="622.2" y2="413.8" stroke="#1a1a1a" stroke-width="2.2" />
<line x1="662.7" y1="413.7" x2="783.9" y2="413.1" stroke="#1a1a1a" stroke-width="2.2" />
<line x1="508.4" y1="498.6" x2="783.9" y2="497.1" stroke="#1a1a1a" stroke-width="2.2" />
<line x1="777.2" y1="413.1" x2="777.2" y2="497.1" stroke="#1a1a1a" stroke-width="1.8" />
<path d="M783.9,413.1 C790,413.3 794.5,418 797.4,423.9 L802.3,432.5 Q803.1,434 803.1,436.5 L803.1,472.5 Q803.1,475 802.3,476.5 L798.2,486 C795,492.5 790,497 783.9,497.1" stroke="#1a1a1a" stroke-width="2.2" fill="none" />
<rect x="803" y="434" width="45.3" height="40.5" rx="0" stroke="#1a1a1a" stroke-width="2.0" fill="none"/>
<circle cx="818.4" cy="454.5" r="5" stroke="#1a1a1a" stroke-width="2.2" fill="none"/>
<rect x="816.6" y="459.5" width="3.6" height="6" fill="#1a1a1a"/>
<rect x="817.8" y="461" width="1.2" height="3" fill="#ccc"/>
<line x1="818.4" y1="443" x2="818.4" y2="467" stroke="#888" stroke-width="0.8" />
<line x1="400" y1="457.4" x2="864" y2="455.3" stroke="#9a9a9a" stroke-width="0.9" stroke-dasharray="12 3 2 3"/>
<line x1="608" y1="445" x2="608" y2="468" stroke="#999" stroke-width="0.8" />
<rect x="554.3" y="452.4" width="19.5" height="7.6" rx="0" stroke="#1a1a1a" stroke-width="1.8" fill="#fff"/>
<path d="M622.2,413.7 L622.2,368.6 L662.7,368.6 L662.7,413.7 C662.2,420.5 653,424.5 642.4,424.5 C632,424.5 622.5,420.5 622.2,413.7" stroke="#1a1a1a" stroke-width="2.2" fill="none" />
<line x1="642.4" y1="358" x2="642.4" y2="425" stroke="#999" stroke-width="0.8" stroke-dasharray="2 1.5"/>
<line x1="630" y1="398.5" x2="656" y2="398.5" stroke="#aaa" stroke-width="0.8" />
<circle cx="642.4" cy="398.5" r="5.3" stroke="#1a1a1a" stroke-width="2.2" fill="none"/>
<line x1="647.8" y1="398.5" x2="652.5" y2="398.5" stroke="#1a1a1a" stroke-width="2.4" />
<polygon points="654.5,398.5 651,396 651,401" stroke="#1a1a1a" stroke-width="0.8" fill="#1a1a1a" stroke-linejoin="miter"/>
<rect x="456.4" y="383.3" width="55.7" height="4.3" rx="2" stroke="#1a1a1a" stroke-width="2.0" fill="#8c8c8c"/>
<rect x="478" y="381.5" width="34" height="2" fill="#1a1a1a"/>
<polyline points="462,387.6 483.9,393.5 506,387.6" stroke="#1a1a1a" stroke-width="1.8" fill="none" stroke-linejoin="miter"/>
<line x1="484.2" y1="387.6" x2="484.2" y2="393.5" stroke="#1a1a1a" stroke-width="1.6" />
<rect x="481" y="393" width="6.5" height="11.7" rx="0" stroke="#1a1a1a" stroke-width="1.8" fill="#fff"/>
<rect x="481" y="397.5" width="6.5" height="2" fill="#1a1a1a"/>
<path d="M498.6,404 L498.6,389.5 L513.6,389.5 L521.4,413.9" stroke="#1a1a1a" stroke-width="2.0" fill="none" />
<line x1="500" y1="396.8" x2="516" y2="396.8" stroke="#1a1a1a" stroke-width="1.4" />
<line x1="500" y1="399.2" x2="517" y2="399.2" stroke="#1a1a1a" stroke-width="2.2" />
<line x1="500" y1="401.6" x2="517.5" y2="401.6" stroke="#1a1a1a" stroke-width="1.4" />
<rect x="505.8" y="410.4" width="9.5" height="3.5" rx="0" stroke="#1a1a1a" stroke-width="1.6" fill="#fff"/>
<rect x="477.2" y="403.5" width="14.7" height="107.3" rx="0" stroke="#1a1a1a" stroke-width="2.2" fill="#fff"/>
<line x1="481.9" y1="403.5" x2="481.9" y2="437" stroke="#1a1a1a" stroke-width="1.6" />
<line x1="488" y1="403.5" x2="488" y2="437" stroke="#1a1a1a" stroke-width="1.6" />
<rect x="484" y="405" width="2" height="31" fill="#999"/>
<rect x="477.2" y="432.1" width="14.7" height="49.9" fill="#1a1a1a"/>
<rect x="482" y="440" width="7" height="6" fill="#e8e8e8"/>
<rect x="483" y="449" width="4" height="3.5" fill="#e8e8e8"/>
<rect x="483" y="455" width="4" height="5" fill="#e8e8e8"/>
<rect x="480" y="462" width="4" height="2.5" fill="#e8e8e8"/>
<rect x="486" y="462" width="4" height="2.5" fill="#e8e8e8"/>
<rect x="482" y="468" width="6" height="3" fill="#e8e8e8"/>
<rect x="483" y="475" width="4" height="3" fill="#e8e8e8"/>
<rect x="484" y="437" width="2" height="3" fill="#bbb"/>
<rect x="491.9" y="448" width="5.7" height="24" rx="0" stroke="#1a1a1a" stroke-width="1.4" fill="#fff"/>
<rect x="492.5" y="451" width="4.5" height="3" fill="#1a1a1a"/>
<rect x="492.5" y="458" width="4.5" height="3" fill="#1a1a1a"/>
<rect x="492.5" y="465" width="4.5" height="3" fill="#1a1a1a"/>
<line x1="481.5" y1="482" x2="481.5" y2="508" stroke="#1a1a1a" stroke-width="1.6" />
<line x1="488" y1="482" x2="488" y2="508" stroke="#1a1a1a" stroke-width="1.6" />
<rect x="484" y="484" width="2" height="23" fill="#aaa"/>
<rect x="473" y="497.8" width="3.2" height="34.7" rx="0" stroke="#1a1a1a" stroke-width="1.6" fill="#333"/>
<rect x="495.5" y="495.6" width="2.9" height="41.4" rx="0" stroke="#1a1a1a" stroke-width="1.8" fill="#333"/>
<line x1="476.2" y1="526" x2="495.5" y2="526" stroke="#1a1a1a" stroke-width="1.4" />
<line x1="476.2" y1="533" x2="495.5" y2="533" stroke="#1a1a1a" stroke-width="1.4" />
<rect x="465" y="528.2" width="17.4" height="4.6" fill="#1a1a1a"/>
<rect x="469" y="524" width="9" height="13" fill="#1a1a1a"/>
<rect x="473" y="534" width="14.5" height="8.6" rx="0" stroke="#1a1a1a" stroke-width="1.8" fill="#fff"/>
<line x1="478.8" y1="515" x2="478.8" y2="548" stroke="#888" stroke-width="0.8" />
<line x1="462" y1="521" x2="480" y2="521" stroke="#888" stroke-width="0.8" />
<g transform="translate(715.2,347) skewX(-9)"><text x="0" y="0" font-family="Liberation Sans" font-style="italic" font-size="15" transform="scale(1,1.06)" fill="#444" textLength="46.3" lengthAdjust="spacingAndGlyphs">Фильтр</text></g>
<line x1="707.3" y1="353.5" x2="769" y2="353.5" stroke="#3a3a3a" stroke-width="1.15" />
<line x1="707.3" y1="353.5" x2="648.8" y2="441.9" stroke="#3a3a3a" stroke-width="1.15" />
<text x="206.3" y="590.7" font-family="Liberation Sans" font-size="14.5" fill="#1c1c1c" stroke="#1c1c1c" stroke-width="0.3">в) Габаритные и монтажные размеры лебедки, лотка и крана консольного<tspan font-size="10" dx="2.5" dy="-4.3">1)</tspan></text>
<text x="62.3" y="618.9" font-family="Liberation Sans" font-size="14.5" fill="#1c1c1c" stroke="#1c1c1c" stroke-width="0.3" xml:space="preserve"><tspan font-style="italic" dx="0">L</tspan><tspan font-size="12" dx="0.3" dy="4.6">4</tspan><tspan dy="-4.6"> — расстояние от дренажного патрубка до оси опоры ФГГ; </tspan><tspan font-style="italic" dx="0">L</tspan><tspan font-size="12" dx="0.3" dy="4.6">5</tspan><tspan dy="-4.6"> — расстояние от анкерных болтов до оси опоры ФГГ;</tspan></text>
<text x="23.4" y="637.3" font-family="Liberation Sans" font-size="14.5" fill="#1c1c1c" stroke="#1c1c1c" stroke-width="0.3" xml:space="preserve"><tspan font-style="italic" dx="0">L</tspan><tspan font-size="12" dx="0.3" dy="4.6">6</tspan><tspan dy="-4.6"><tspan dx="2.6">—</tspan> расстояние от патрубка подвода нефти до оси ФГГ;  </tspan><tspan font-style="italic" dx="0">L</tspan><tspan font-size="12" dx="0.3" dy="4.6">7</tspan><tspan dy="-4.6"> — длина лебедки; </tspan><tspan font-style="italic" dx="0">L</tspan><tspan font-size="12" dx="0.3" dy="4.6">8</tspan><tspan dy="-4.6"> — расстояние от лебедки до корпуса фильтра;</tspan></text>
<text x="86.7" y="655.8" font-family="Liberation Sans" font-size="14.5" fill="#1c1c1c" stroke="#1c1c1c" stroke-width="0.3" xml:space="preserve"><tspan font-style="italic" dx="0">L</tspan><tspan font-size="12" dx="0.3" dy="4.6">9</tspan><tspan dy="-4.6"><tspan dx="2.7">—</tspan> расстояние от лотка до корпуса фильтра; </tspan><tspan font-style="italic" dx="0">L</tspan><tspan font-size="12" dx="0.3" dy="4.6">10</tspan><tspan dy="-4.6"> — длина лотка; </tspan><tspan font-style="italic" dx="0">B</tspan><tspan font-size="12" dx="0.3" dy="4.6">1</tspan><tspan dy="-4.6"> — ширина лебедки; </tspan><tspan font-style="italic" dx="0">B</tspan><tspan font-size="12" dx="0.3" dy="4.6">2</tspan><tspan dy="-4.6"> — ширина лотка;</tspan></text>
<text x="285.2" y="674.3" font-family="Liberation Sans" font-size="14.5" fill="#1c1c1c" stroke="#1c1c1c" stroke-width="0.3" xml:space="preserve"><tspan font-style="italic" dx="0">H</tspan><tspan font-size="12" dx="0.3" dy="4.6">1</tspan><tspan dy="-4.6"> — расстояние от дренажного патрубка к оси ФГГ</tspan></text>
</svg>
</body></html>
